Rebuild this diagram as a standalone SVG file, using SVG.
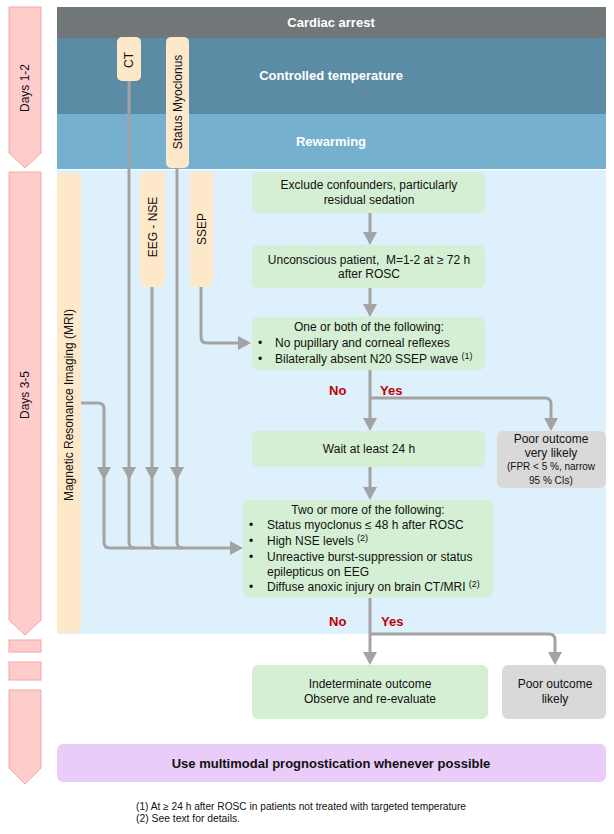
<svg xmlns="http://www.w3.org/2000/svg" width="614" height="834" viewBox="0 0 614 834">
<defs>
<style>
text{font-family:"Liberation Sans",Arial,sans-serif;fill:#111}
.t{font-size:12px}
.c{text-anchor:middle}
.b{font-weight:bold}
.w{fill:#fff;font-size:13px;font-weight:bold;text-anchor:middle}
.yn{fill:#C00000;font-size:13px;font-weight:bold}
.g{fill:#D4EFD3}
.gy{fill:#D9D9D9}
.o{fill:#FDE8CA}
.pk{fill:#FFCCCC;stroke:#F4A6A6;stroke-width:1}
.ln{fill:none;stroke:#A3A3A3;stroke-width:3;stroke-linejoin:round}
.ah{fill:#A3A3A3}
.sm{font-size:9px}
</style>
</defs>
<rect width="614" height="834" fill="#fff"/>
<g id="timeline">
<path class="pk" d="M9 7H41V153L25 168L9 153Z"/>
<text class="t c" transform="translate(29,88) rotate(-90)">Days 1-2</text>
<path class="pk" d="M9 172H41V620L25 635L9 620Z"/>
<text class="t c" transform="translate(29,395) rotate(-90)">Days 3-5</text>
<rect class="pk" x="9" y="640" width="32" height="12"/>
<rect class="pk" x="9" y="662" width="32" height="18"/>
<path class="pk" d="M9 690H41V768L25 784L9 768Z"/>
</g>
<g id="bands">
<rect x="57" y="7" width="549" height="31" fill="#717779"/>
<text class="w" x="331" y="27">Cardiac arrest</text>
<rect x="57" y="38" width="549" height="76" fill="#5B8BA5"/>
<text class="w" x="331" y="80">Controlled temperature</text>
<rect x="57" y="114" width="549" height="55" fill="#75B1CF"/>
<text class="w" x="331" y="146">Rewarming</text>
<rect x="57" y="170" width="549" height="464" fill="#DEF0FB"/>
</g>
<g id="connectors">
<path class="ln" d="M370 213V234"/><path class="ah" d="M363 232H377L370 245Z"/>
<path class="ln" d="M370 288V306"/><path class="ah" d="M363 304H377L370 317Z"/>
<path class="ln" d="M370 370V420"/><path class="ah" d="M363 418H377L370 431Z"/>
<path class="ln" d="M370 398H545Q551 398 551 404V420"/><path class="ah" d="M544 418H558L551 431Z"/>
<path class="ln" d="M370 467V489"/><path class="ah" d="M363 487H377L370 500Z"/>
<path class="ln" d="M370 598V654"/><path class="ah" d="M363 652H377L370 665Z"/>
<path class="ln" d="M370 634H549Q555 634 555 640V654"/><path class="ah" d="M548 652H562L555 665Z"/>
<path class="ln" d="M201 287V337Q201 343 207 343H240"/><path class="ah" d="M238 336V350L251 343Z"/>
<path class="ln" d="M81 403H98Q104 403 104 409V542Q104 548 110 548H232"/>
<path class="ln" d="M129 81V542Q129 548 135 548"/>
<path class="ln" d="M152 287V542Q152 548 158 548"/>
<path class="ln" d="M177 168V542Q177 548 183 548"/>
<path class="ah" d="M230 541V555L243 548Z"/>
<path class="ah" d="M97 467H111L104 480Z"/>
<path class="ah" d="M122 467H136L129 480Z"/>
<path class="ah" d="M145 467H159L152 480Z"/>
<path class="ah" d="M170 467H184L177 480Z"/>
</g>
<g id="ct">
<rect class="o" x="117" y="37" width="24" height="44" rx="5"/>
<text class="t c" transform="translate(133,60) rotate(-90)">CT</text>
</g>
<g id="status-myoclonus">
<rect class="o" x="166" y="37" width="23" height="131" rx="5"/>
<text class="t c" transform="translate(182,102) rotate(-90)">Status Myoclonus</text>
</g>
<g id="mri">
<rect class="o" x="57" y="173" width="24" height="460" rx="5"/>
<text class="t c" transform="translate(73,405) rotate(-90)">Magnetic Resonance Imaging (MRI)</text>
</g>
<g id="eeg-nse">
<rect class="o" x="140" y="172" width="25" height="115" rx="5"/>
<text class="t c" transform="translate(157,227) rotate(-90)">EEG - NSE</text>
</g>
<g id="ssep">
<rect class="o" x="190" y="172" width="23" height="115" rx="5"/>
<text class="t c" transform="translate(206,229) rotate(-90)">SSEP</text>
</g>
<g id="exclude">
<rect class="g" x="252" y="172" width="233" height="41" rx="6"/>
<text class="t c" x="369" y="189">Exclude confounders, particularly</text>
<text class="t c" x="369" y="204">residual sedation</text>
</g>
<g id="unconscious">
<rect class="g" x="252" y="245" width="233" height="43" rx="6"/>
<text class="t c" x="369" y="264">Unconscious patient,&#160; M=1-2 at ≥ 72 h</text>
<text class="t c" x="369" y="278">after ROSC</text>
</g>
<g id="one-or-both">
<rect class="g" x="252" y="317" width="233" height="53" rx="6"/>
<text class="t c" x="369" y="331">One or both of the following:</text>
<text class="t" x="258" y="347">•</text><text class="t" x="275" y="347">No pupillary and corneal reflexes</text>
<text class="t" x="258" y="363">•</text><text class="t" x="275" y="363">Bilaterally absent N20 SSEP wave <tspan class="sm" dy="-4">(1)</tspan></text>
</g>
<text class="yn" x="329" y="395">No</text>
<text class="yn" x="380" y="395">Yes</text>
<g id="wait">
<rect class="g" x="252" y="431" width="233" height="36" rx="6"/>
<text class="t c" x="369" y="453">Wait at least 24 h</text>
</g>
<g id="poor-very-likely">
<rect class="gy" x="497" y="431" width="109" height="57" rx="6"/>
<text class="t c" x="551" y="443">Poor outcome</text>
<text class="t c" x="551" y="457">very likely</text>
<text class="c" style="font-size:10px" x="551" y="470">(FPR &lt; 5 %, narrow</text>
<text class="c" style="font-size:10px" x="551" y="484">95 % CIs)</text>
</g>
<g id="two-or-more">
<rect class="g" x="243" y="500" width="250" height="98" rx="6"/>
<text class="t c" x="368" y="514">Two or more of the following:</text>
<text class="t" x="249" y="529">•</text><text class="t" x="267" y="529">Status myoclonus ≤ 48 h after ROSC</text>
<text class="t" x="249" y="545">•</text><text class="t" x="267" y="545">High NSE levels <tspan class="sm" dy="-4">(2)</tspan></text>
<text class="t" x="249" y="561">•</text><text class="t" x="267" y="561">Unreactive burst-suppression or status</text>
<text class="t" x="267" y="576">epilepticus on EEG</text>
<text class="t" x="249" y="591">•</text><text class="t" x="267" y="591">Diffuse anoxic injury on brain CT/MRI <tspan class="sm" dy="-4">(2)</tspan></text>
</g>
<text class="yn" x="329" y="626">No</text>
<text class="yn" x="381" y="626">Yes</text>
<g id="indeterminate">
<rect class="g" x="252" y="665" width="236" height="54" rx="6"/>
<text class="t c" x="370" y="688">Indeterminate outcome</text>
<text class="t c" x="370" y="703">Observe and re-evaluate</text>
</g>
<g id="poor-likely">
<rect class="gy" x="502" y="665" width="104" height="54" rx="6"/>
<text class="t c" x="555" y="688">Poor outcome</text>
<text class="t c" x="555" y="703">likely</text>
</g>
<g id="multimodal">
<rect x="57" y="744" width="549" height="38" rx="6" fill="#E9CCF8"/>
<text class="c b" style="font-size:13px" x="331" y="768">Use multimodal prognostication whenever possible</text>
</g>
<g id="footnotes">
<text style="font-size:10px" x="136" y="810" textLength="330" lengthAdjust="spacingAndGlyphs">(1) At ≥ 24 h after ROSC in patients not treated with targeted temperature</text>
<text style="font-size:10px" x="136" y="822" textLength="104" lengthAdjust="spacingAndGlyphs">(2) See text for details.</text>
</g>
</svg>
